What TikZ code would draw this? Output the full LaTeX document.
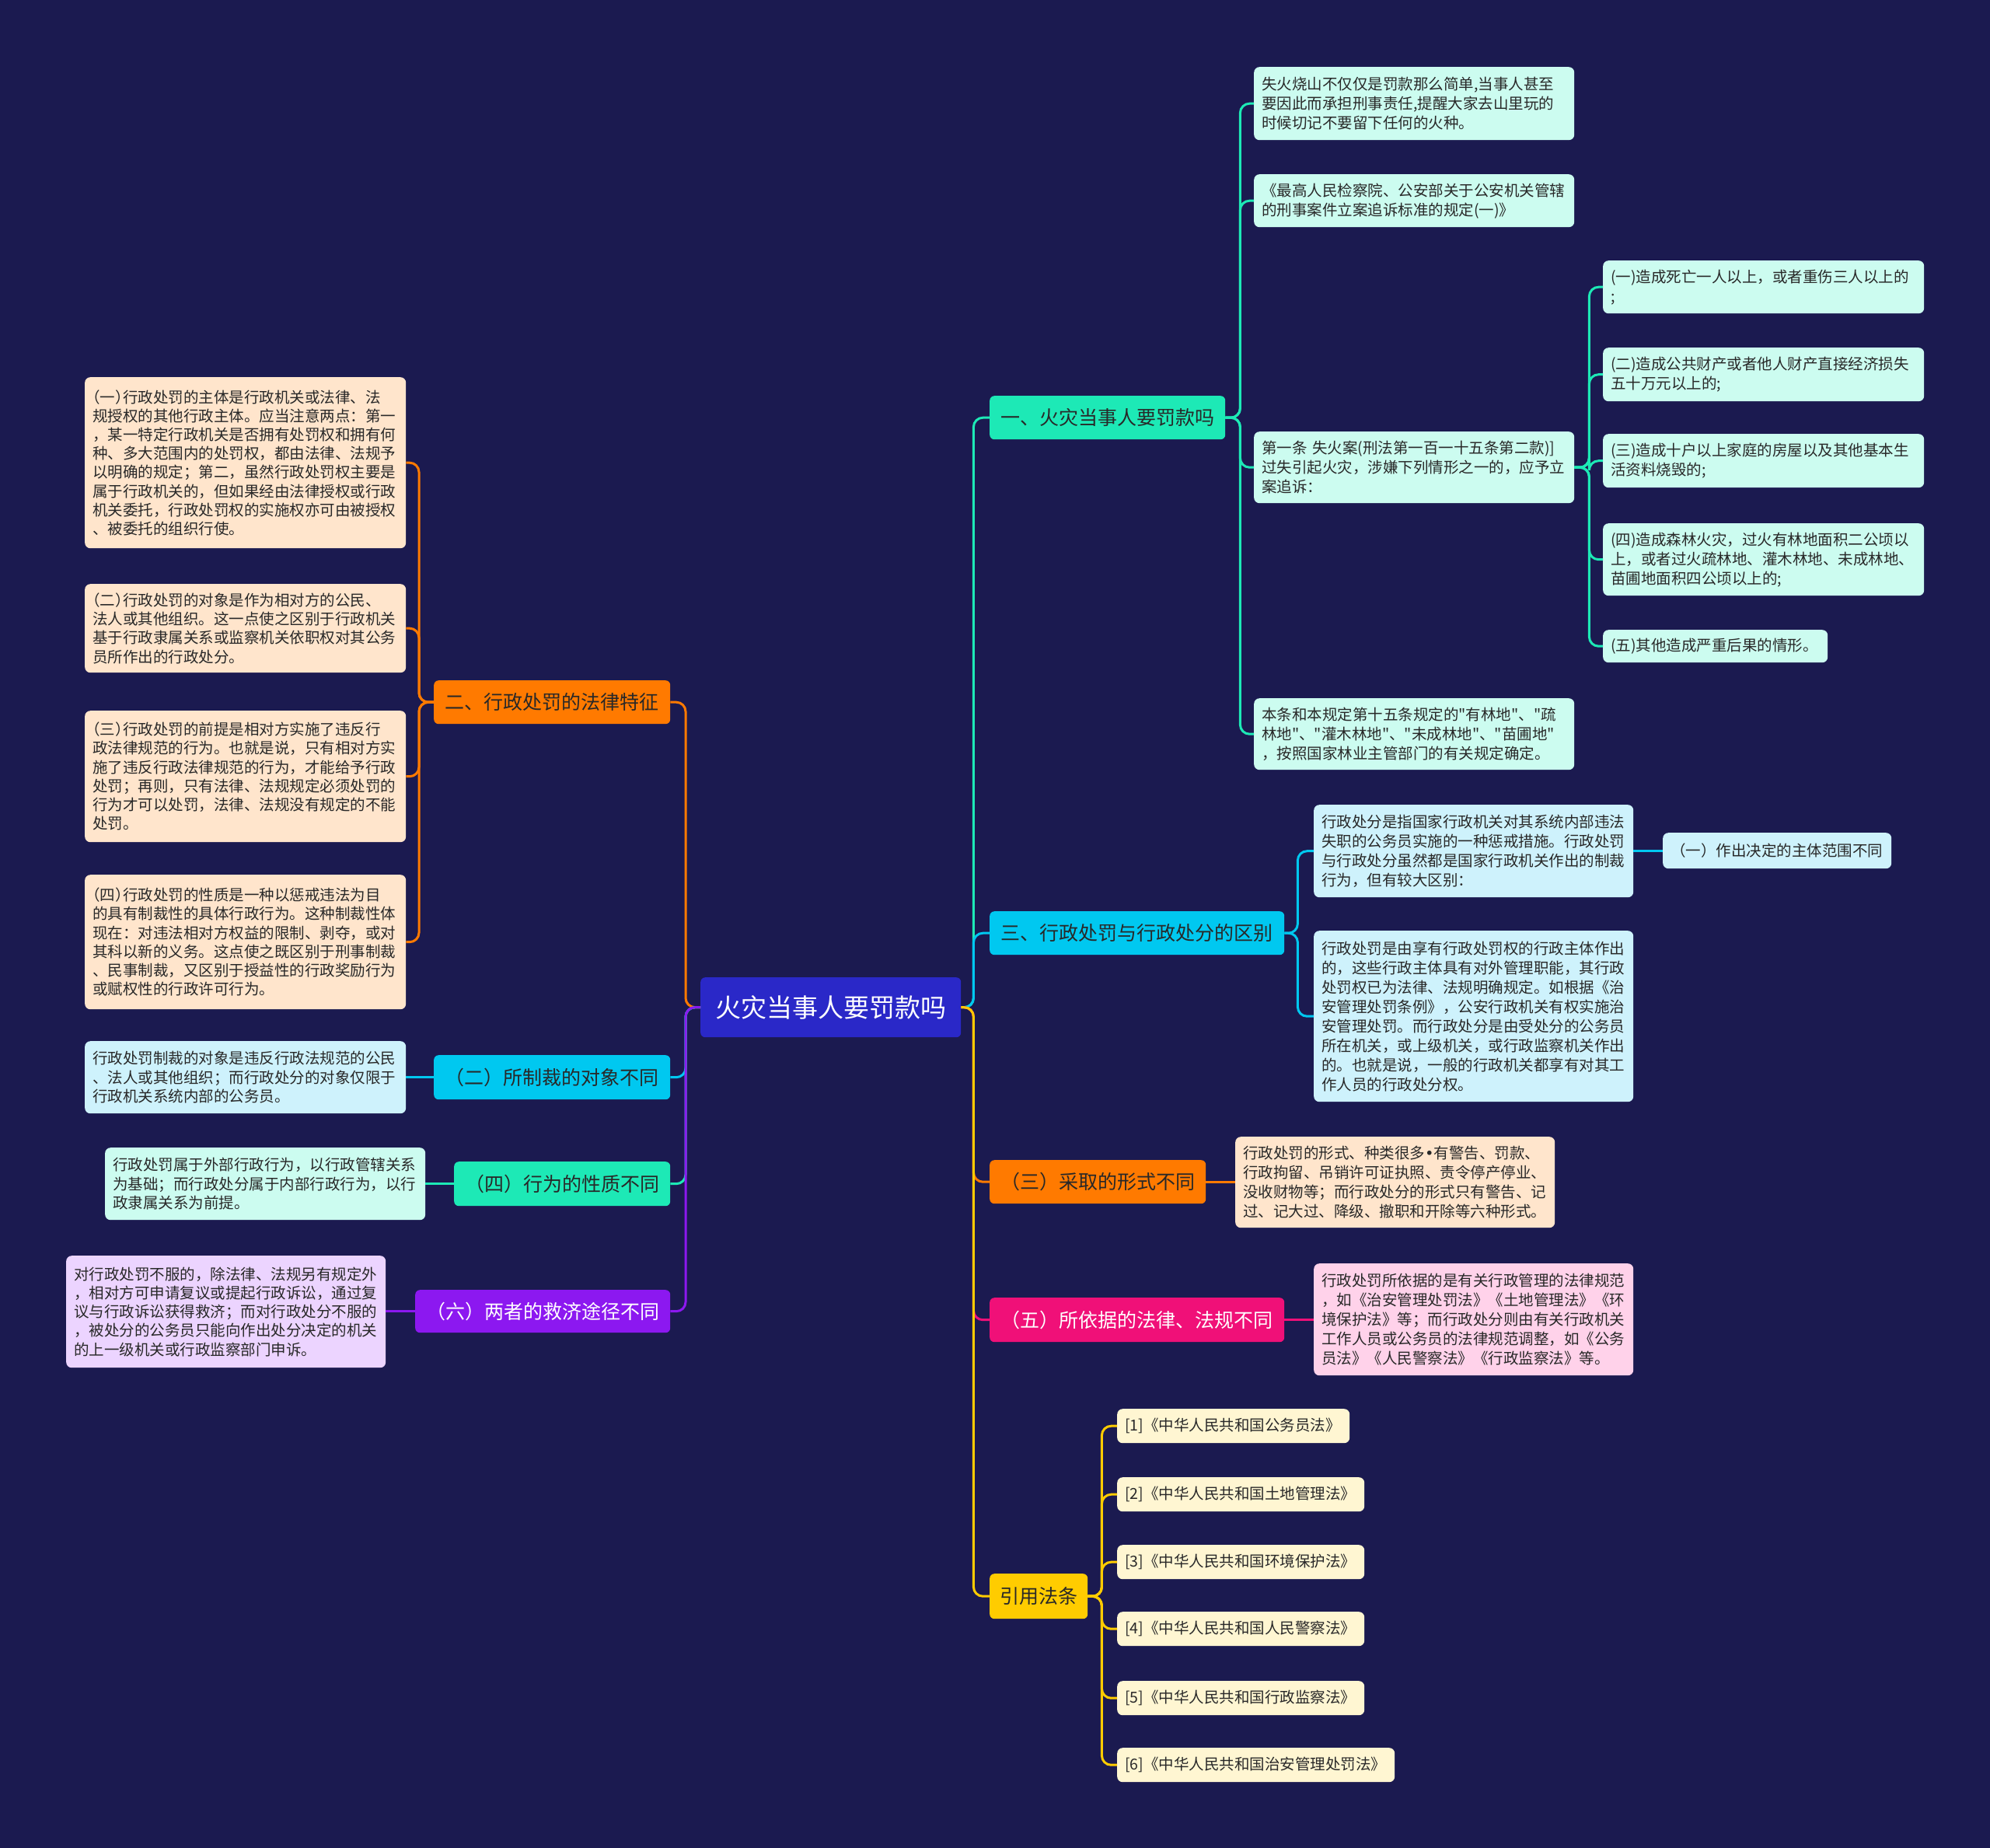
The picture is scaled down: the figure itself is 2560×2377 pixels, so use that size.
\documentclass[tikz,border=0pt]{standalone}
\usepackage{fontspec}
\newfontfamily\cjk{Noto Sans CJK SC}
\newfontfamily\dejavu{DejaVu Sans}
\newcommand{\hlp}{{\addfontfeature{RawFeature=+halt}（}}
\newcommand{\hrp}{{\addfontfeature{RawFeature=+halt}）}}
\usetikzlibrary{positioning}
\definecolor{bgnavy}{RGB}{27,26,80}
\definecolor{rootblue}{RGB}{42,40,200}
\definecolor{cteal}{RGB}{29,233,182}
\definecolor{ccyan}{RGB}{0,200,240}
\definecolor{corange}{RGB}{255,122,0}
\definecolor{cpink}{RGB}{240,16,120}
\definecolor{cyellow}{RGB}{255,204,0}
\definecolor{cpurple}{RGB}{140,24,240}
\definecolor{fmint}{RGB}{204,252,240}
\definecolor{fcyan}{RGB}{206,242,252}
\definecolor{fpeach}{RGB}{255,229,204}
\definecolor{fpink}{RGB}{255,210,234}
\definecolor{flav}{RGB}{236,212,255}
\definecolor{fcream}{RGB}{255,246,210}
\definecolor{txtdark}{RGB}{40,40,40}
\tikzset{
  root/.style={fill=rootblue,text=white,rounded corners=6pt,anchor=north west,
    font=\cjk\fontsize{33}{40}\selectfont,inner sep=0pt},
  branch/.style={fill=#1,text=txtdark,rounded corners=6pt,anchor=north west,
    font=\cjk\fontsize{25}{30}\selectfont,inner sep=0pt},
  leaf/.style={fill=#1,text=txtdark,rounded corners=7pt,anchor=north west,align=left,
    font=\cjk\fontsize{19.5}{25}\selectfont,inner xsep=10pt,inner ysep=0pt},
  lleaf/.style={leaf=#1,font=\cjk\fontsize{19.5}{24.2}\selectfont},
  link/.style={draw=#1,line width=3pt,rounded corners=12pt},
}

\begin{document}
\begin{tikzpicture}[x=1pt,y=-1pt]
\fill[bgnavy] (0,0) rectangle (2560,2377);
\useasboundingbox (0,0) rectangle (2560,2377);

\node[root,minimum width=335pt,minimum height=77pt] (root) at (901,1257) {火灾当事人要罚款吗};

\node[branch=cteal,minimum width=303pt,minimum height=56pt] (fine) at (1273,509) {一、火灾当事人要罚款吗};
\node[branch=ccyan,minimum width=379pt,minimum height=56pt] (diff) at (1273,1172) {三、行政处罚与行政处分的区别};
\node[branch=corange,minimum width=278pt,minimum height=56pt] (form) at (1273,1492) {（三）采取的形式不同};
\node[branch=cpink,text=white,minimum width=379pt,minimum height=57pt] (basis) at (1273,1669) {（五）所依据的法律、法规不同};
\node[branch=cyellow,minimum width=126pt,minimum height=58pt] (refs) at (1273,2024) {引用法条};

\node[branch=corange,minimum width=304pt,minimum height=56pt] (feat) at (558,875) {二、行政处罚的法律特征};
\node[branch=ccyan,minimum width=304pt,minimum height=57pt] (obj) at (558,1357) {（二）所制裁的对象不同};
\node[branch=cteal,minimum width=278pt,minimum height=57pt] (nat) at (584,1494) {（四）行为的性质不同};
\node[branch=cpurple,text=white,minimum width=328pt,minimum height=55pt] (remedy) at (534,1659) {（六）两者的救济途径不同};

\node[leaf=fmint,text width=392pt,minimum height=94pt] (warn) at (1613,86) {失火烧山不仅仅是罚款那么简单,当事人甚至\\要因此而承担刑事责任,提醒大家去山里玩的\\时候切记不要留下任何的火种。};
\node[leaf=fmint,text width=392pt,minimum height=68pt] (rule) at (1613,224) {《最高人民检察院、公安部关于公安机关管辖\\的刑事案件立案追诉标准的规定(一)》};
\node[leaf=fmint,text width=392pt,minimum height=92pt] (art) at (1613,555) {第一条 失火案(刑法第一百一十五条第二款)]\\过失引起火灾，涉嫌下列情形之一的，应予立\\案追诉：};
\node[leaf=fmint,text width=392pt,minimum height=92pt] (forest) at (1613,898) {本条和本规定第十五条规定的"有林地"、"疏\\林地"、"灌木林地"、"未成林地"、"苗圃地"\\，按照国家林业主管部门的有关规定确定。};

\node[leaf=fmint,text width=393pt,minimum height=68pt] (caseA) at (2062,335) {(一)造成死亡一人以上，或者重伤三人以上的\\;};
\node[leaf=fmint,text width=393pt,minimum height=69pt] (caseB) at (2062,447) {(二)造成公共财产或者他人财产直接经济损失\\五十万元以上的;};
\node[leaf=fmint,text width=393pt,minimum height=69pt] (caseC) at (2062,558) {(三)造成十户以上家庭的房屋以及其他基本生\\活资料烧毁的;};
\node[leaf=fmint,text width=393pt,minimum height=93pt] (caseD) at (2062,673) {(四)造成森林火灾，过火有林地面积二公顷以\\上，或者过火疏林地、灌木林地、未成林地、\\苗圃地面积四公顷以上的;};
\node[leaf=fmint,text width=269pt,minimum height=42pt] (caseE) at (2062,810) {(五)其他造成严重后果的情形。};

\node[leaf=fcyan,text width=391pt,minimum height=119pt] (discip) at (1690,1035) {行政处分是指国家行政机关对其系统内部违法\\失职的公务员实施的一种惩戒措施。行政处罚\\与行政处分虽然都是国家行政机关作出的制裁\\行为，但有较大区别：};
\node[leaf=fcyan,text width=274pt,minimum height=46pt] (subj) at (2139,1071) {（一）作出决定的主体范围不同};
\node[leaf=fcyan,text width=391pt,minimum height=220pt] (power) at (1690,1197) {行政处罚是由享有行政处罚权的行政主体作出\\的，这些行政主体具有对外管理职能，其行政\\处罚权已为法律、法规明确规定。如根据《治\\安管理处罚条例》，公安行政机关有权实施治\\安管理处罚。而行政处分是由受处分的公务员\\所在机关，或上级机关，或行政监察机关作出\\的。也就是说，一般的行政机关都享有对其工\\作人员的行政处分权。};

\node[leaf=fpeach,text width=391pt,minimum height=117pt] (kinds) at (1589,1462) {行政处罚的形式、种类很多{\dejavu •}有警告、罚款、\\行政拘留、吊销许可证执照、责令停产停业、\\没收财物等；而行政处分的形式只有警告、记\\过、记大过、降级、撤职和开除等六种形式。};
\node[leaf=fpink,text width=391pt,minimum height=144pt] (laws) at (1690,1625) {行政处罚所依据的是有关行政管理的法律规范\\，如《治安管理处罚法》《土地管理法》《环\\境保护法》等；而行政处分则由有关行政机关\\工作人员或公务员的法律规范调整，如《公务\\员法》《人民警察法》《行政监察法》等。};

\node[leaf=fcream,text width=279pt,minimum height=44pt] (refA) at (1437,1812) {[1]《中华人民共和国公务员法》};
\node[leaf=fcream,text width=298pt,minimum height=44pt] (refB) at (1437,1900) {[2]《中华人民共和国土地管理法》};
\node[leaf=fcream,text width=298pt,minimum height=44pt] (refC) at (1437,1987) {[3]《中华人民共和国环境保护法》};
\node[leaf=fcream,text width=298pt,minimum height=44pt] (refD) at (1437,2073) {[4]《中华人民共和国人民警察法》};
\node[leaf=fcream,text width=298pt,minimum height=44pt] (refE) at (1437,2162) {[5]《中华人民共和国行政监察法》};
\node[leaf=fcream,text width=337pt,minimum height=44pt] (refF) at (1437,2248) {[6]《中华人民共和国治安管理处罚法》};

\node[lleaf=fpeach,text width=393pt,minimum height=220pt] (featA) at (109,485) {\hlp 一\hrp 行政处罚的主体是行政机关或法律、法\\规授权的其他行政主体。应当注意两点：第一\\，某一特定行政机关是否拥有处罚权和拥有何\\种、多大范围内的处罚权，都由法律、法规予\\以明确的规定；第二，虽然行政处罚权主要是\\属于行政机关的，但如果经由法律授权或行政\\机关委托，行政处罚权的实施权亦可由被授权\\、被委托的组织行使。};
\node[lleaf=fpeach,text width=393pt,minimum height=114pt] (featB) at (109,751) {\hlp 二\hrp 行政处罚的对象是作为相对方的公民、\\法人或其他组织。这一点使之区别于行政机关\\基于行政隶属关系或监察机关依职权对其公务\\员所作出的行政处分。};
\node[lleaf=fpeach,text width=393pt,minimum height=169pt] (featC) at (109,914) {\hlp 三\hrp 行政处罚的前提是相对方实施了违反行\\政法律规范的行为。也就是说，只有相对方实\\施了违反行政法律规范的行为，才能给予行政\\处罚；再则，只有法律、法规规定必须处罚的\\行为才可以处罚，法律、法规没有规定的不能\\处罚。};
\node[lleaf=fpeach,text width=393pt,minimum height=173pt] (featD) at (109,1125) {\hlp 四\hrp 行政处罚的性质是一种以惩戒违法为目\\的具有制裁性的具体行政行为。这种制裁性体\\现在：对违法相对方权益的限制、剥夺，或对\\其科以新的义务。这点使之既区别于刑事制裁\\、民事制裁，又区别于授益性的行政奖励行为\\或赋权性的行政许可行为。};
\node[lleaf=fcyan,text width=393pt,minimum height=93pt] (target) at (109,1339) {行政处罚制裁的对象是违反行政法规范的公民\\、法人或其他组织；而行政处分的对象仅限于\\行政机关系统内部的公务员。};
\node[lleaf=fmint,text width=392pt,minimum height=93pt] (scope) at (135,1476) {行政处罚属于外部行政行为，以行政管辖关系\\为基础；而行政处分属于内部行政行为，以行\\政隶属关系为前提。};
\node[lleaf=flav,text width=391pt,minimum height=144pt] (appeal) at (85,1615) {对行政处罚不服的，除法律、法规另有规定外\\，相对方可申请复议或提起行政诉讼，通过复\\议与行政诉讼获得救济；而对行政处分不服的\\，被处分的公务员只能向作出处分决定的机关\\的上一级机关或行政监察部门申诉。};

\draw[link=cteal] (root.east) -- ++(16,0) |- (fine.west);
\draw[link=ccyan] (root.east) -- ++(16,0) |- (diff.west);
\draw[link=corange] (root.east) -- ++(16,0) |- (form.west);
\draw[link=cpink] (root.east) -- ++(16,0) |- (basis.west);
\draw[link=cyellow] (root.east) -- ++(16,0) |- (refs.west);

\draw[link=corange] (root.west) -- ++(-19,0) |- (feat.east);
\draw[link=ccyan] (root.west) -- ++(-19,0) |- (obj.east);
\draw[link=cteal] (root.west) -- ++(-19,0) |- (nat.east);
\draw[link=cpurple] (root.west) -- ++(-19,0) |- (remedy.east);

\foreach \n in {warn,rule,art,forest}
  \draw[link=cteal] (fine.east) -- ++(19,0) |- (\n.west);
\foreach \n in {caseA,caseB,caseC,caseD,caseE}
  \draw[link=cteal] (art.east) -- ++(19,0) |- (\n.west);
\foreach \n in {discip,power}
  \draw[link=ccyan] (diff.east) -- ++(17,0) |- (\n.west);
\draw[link=ccyan] (discip.east) -- (discip.east -| subj.west);
\draw[link=corange] (form.east) -- (form.east -| kinds.west);
\draw[link=cpink] (basis.east) -- (basis.east -| laws.west);
\foreach \n in {refA,refB,refC,refD,refE,refF}
  \draw[link=cyellow] (refs.east) -- ++(18,0) |- (\n.west);

\foreach \n in {featA,featB,featC,featD}
  \draw[link=corange] (feat.west) -- ++(-19,0) |- (\n.east);
\draw[link=ccyan] (obj.west) -- (obj.west -| target.east);
\draw[link=cteal] (nat.west) -- (nat.west -| scope.east);
\draw[link=cpurple] (remedy.west) -- (remedy.west -| appeal.east);
\end{tikzpicture}
\end{document}
